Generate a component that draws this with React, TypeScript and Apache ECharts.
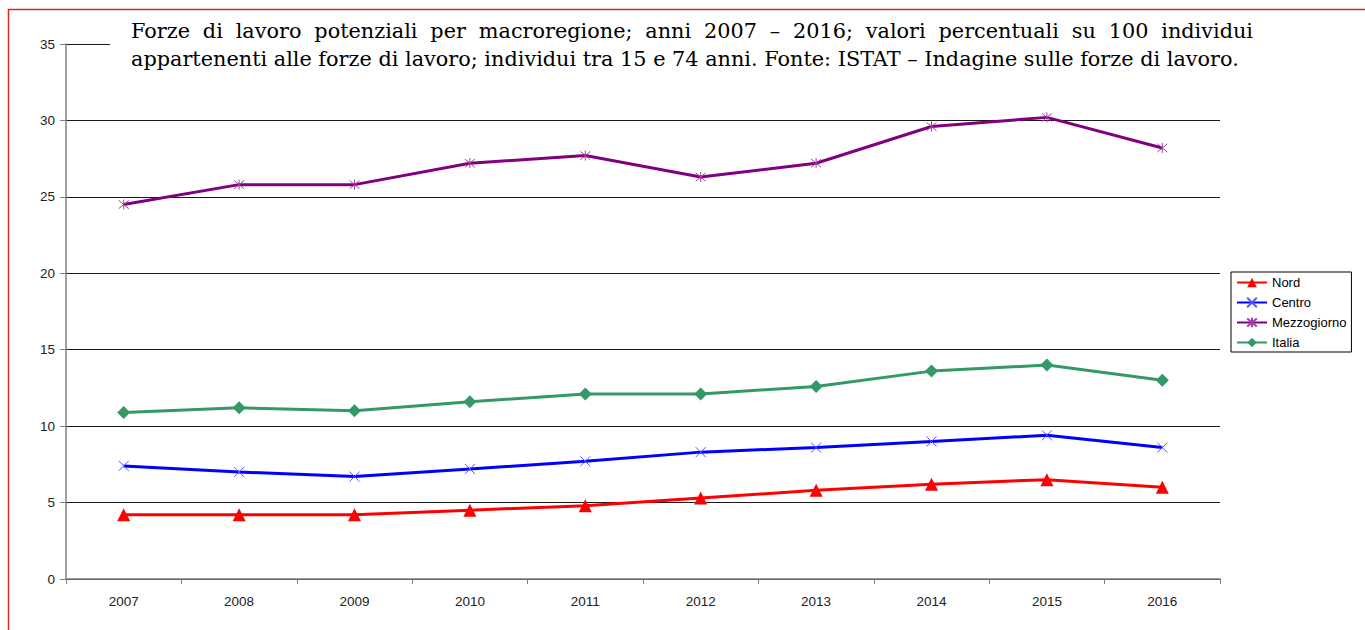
import React, { useEffect, useRef } from "react";
import * as echarts from "echarts";

const years = ["2007", "2008", "2009", "2010", "2011", "2012", "2013", "2014", "2015", "2016"];
const nord = [4.2, 4.2, 4.2, 4.5, 4.8, 5.3, 5.8, 6.2, 6.5, 6.0];
const centro = [7.4, 7.0, 6.7, 7.2, 7.7, 8.3, 8.6, 9.0, 9.4, 8.6];
const mezzogiorno = [24.5, 25.8, 25.8, 27.2, 27.7, 26.3, 27.2, 29.6, 30.2, 28.2];
const italia = [10.9, 11.2, 11.0, 11.6, 12.1, 12.1, 12.6, 13.6, 14.0, 13.0];

const titleLine1 =
  "Forze di lavoro potenziali per macroregione; anni 2007 – 2016; valori percentuali su 100 individui";
const titleLine2 =
  "appartenenti alle forze di lavoro; individui tra 15 e 74 anni. Fonte: ISTAT – Indagine sulle forze di lavoro.";

const SERIF = '"DejaVu Serif", serif';
const SANS = '"Liberation Sans", Arial, sans-serif';

export default function App() {
  const ref = useRef<HTMLDivElement>(null);
  useEffect(() => {
    if (!ref.current) return;
    const chart = echarts.init(ref.current, undefined, { renderer: "svg" });

    const ctx = document.createElement("canvas").getContext("2d")!;
    const measure = (t: string, s: number) => {
      ctx.font = `${s}px "DejaVu Serif"`;
      return ctx.measureText(t).width;
    };
    const line2Width = 1109;
    const fs = (20 * line2Width) / measure(titleLine2, 20);
    const x0 = 131;
    const line1Width = 1122;
    const words = titleLine1.split(" ");
    const widths = words.map((w) => measure(w, fs));
    const total = widths.reduce((a, b) => a + b, 0);
    const gap = (line1Width - total) / (words.length - 1);
    const wordEls: any[] = [];
    let cx = x0;
    words.forEach((w, i) => {
      wordEls.push({
        type: "text",
        z: 101,
        x: cx,
        y: 31,
        style: { text: w, font: `${fs}px ${SERIF}`, fill: "#000", textVerticalAlign: "middle" },
      });
      cx += widths[i] + gap;
    });

    const lineSeries = (name: string, data: number[], color: string, symbol: string, size: number, extra: any) => ({
      name,
      type: "line",
      data,
      symbol,
      symbolSize: size,
      lineStyle: { color, width: 3 },
      itemStyle: { color, ...extra },
      emphasis: { disabled: true },
    });

    chart.setOption({
      animation: false,
      grid: { left: 66, right: 145, top: 44, bottom: 51 },
      legend: {
        orient: "vertical",
        left: 1231,
        top: 272,
        borderColor: "#000",
        borderWidth: 1,
        padding: [4, 5, 3, 5],
        itemGap: 7,
        itemWidth: 30,
        itemHeight: 12,
        textStyle: { fontFamily: SANS, fontSize: 13, color: "#000" },
        data: ["Nord", "Centro", "Mezzogiorno", "Italia"],
      },
      xAxis: {
        type: "category",
        data: years,
        boundaryGap: true,
        axisLine: { lineStyle: { color: "#808080", width: 1.5 } },
        axisTick: { show: true, length: 5, lineStyle: { color: "#808080" } },
        axisLabel: { fontFamily: SANS, fontSize: 13.5, color: "#222", margin: 15 },
      },
      yAxis: {
        type: "value",
        min: 0,
        max: 35,
        interval: 5,
        axisLine: { show: true, lineStyle: { color: "#808080", width: 1.5 } },
        axisTick: { show: true, length: 6, lineStyle: { color: "#808080" } },
        axisLabel: { fontFamily: SANS, fontSize: 13.5, color: "#222", margin: 11 },
        splitLine: { show: true, lineStyle: { color: "#1a1a1a", width: 1 } },
      },
      series: [
        lineSeries("Nord", nord, "#ff0000", "triangle", 13, {}),
        lineSeries("Centro", centro, "#0000ff", "path://M0,0L10,10M10,0L0,10", 10, {
          borderColor: "#5555ff",
          borderWidth: 1,
        }),
        lineSeries("Mezzogiorno", mezzogiorno, "#800080", "path://M0,0L10,10M10,0L0,10M5,-1L5,11", 10, {
          borderColor: "#a040a0",
          borderWidth: 1,
        }),
        lineSeries("Italia", italia, "#339966", "diamond", 13, {}),
      ],
      graphic: [
        {
          type: "rect",
          z: 100,
          shape: { x: 110, y: 14, width: 1160, height: 62 },
          style: { fill: "#fff" },
        },
        ...wordEls,
        {
          type: "text",
          z: 101,
          x: x0,
          y: 59,
          style: { text: titleLine2, font: `${fs}px ${SERIF}`, fill: "#000", textVerticalAlign: "middle" },
        },
        {
          type: "rect",
          z: 102,
          shape: { x: 8.5, y: 9.5, width: 1400, height: 700 },
          style: { fill: "none", stroke: "#d42a2a", lineWidth: 1.5 },
        },
      ],
    });
    return () => chart.dispose();
  }, []);
  return (
    <div
      ref={ref}
      style={{ position: "fixed", left: 0, top: 0, width: 1365, height: 630, background: "#fff" }}
    />
  );
}
